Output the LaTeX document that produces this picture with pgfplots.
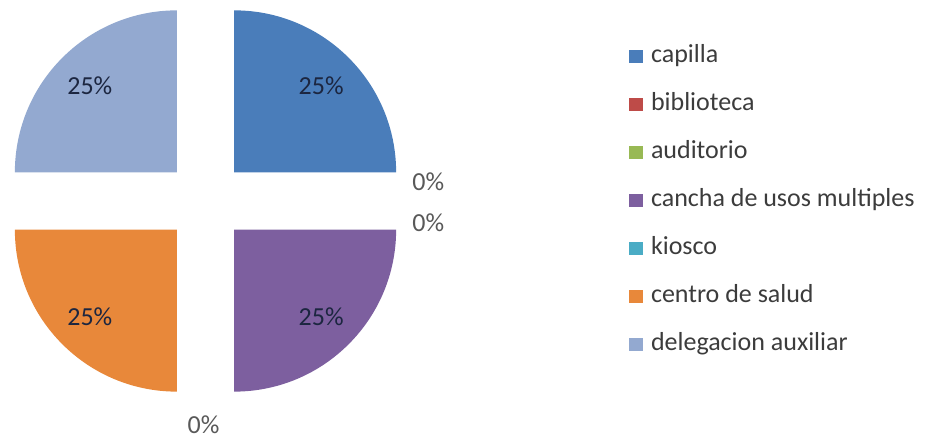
\documentclass[border=0pt]{standalone}
\usepackage{fontspec}
\setmainfont{Carlito}
\usepackage{pgfplots}
\usepackage{pgfplotstable}
\pgfplotsset{compat=1.18}

\definecolor{c0}{HTML}{4A7DBA}
\definecolor{c1}{HTML}{BE4B48}
\definecolor{c2}{HTML}{98B954}
\definecolor{c3}{HTML}{7D5F9F}
\definecolor{c4}{HTML}{4AACC5}
\definecolor{c5}{HTML}{E8883A}
\definecolor{c6}{HTML}{93A9D0}
\definecolor{intext}{HTML}{1C2640}
\definecolor{outtext}{HTML}{595959}
\definecolor{legtext}{HTML}{3C3C3C}

% valores en %, desplazamiento (px) de las etiquetas exteriores
\pgfplotstableread[col sep=comma]{
name,value,nx,ny
capilla,25,0,0
biblioteca,0,0,19
auditorio,0,0,-22
cancha de usos multiples,25,0,0
kiosco,0,-2,-1
centro de salud,25,0,0
delegacion auxiliar,25,0,0
}\datos

\newcommand{\bigfont}{\fontsize{26bp}{30bp}\selectfont}

\begin{document}
\begin{tikzpicture}
\def\R{162}\def\CX{205.5}\def\CY{239}
% total
\def\total{0}
\pgfplotsforeachungrouped \i in {0,...,6}{%
  \pgfplotstablegetelem{\i}{value}\of\datos
  \pgfmathsetmacro\total{\total+\pgfplotsretval}}
% angulos (sentido horario desde las 12) y posiciones
\def\acc{0}
\pgfplotsforeachungrouped \i in {0,...,6}{%
  \pgfplotstablegetelem{\i}{value}\of\datos \let\v\pgfplotsretval
  \pgfplotstablegetelem{\i}{name}\of\datos \let\nm\pgfplotsretval
  \pgfplotstablegetelem{\i}{nx}\of\datos \let\nx\pgfplotsretval
  \pgfplotstablegetelem{\i}{ny}\of\datos \let\ny\pgfplotsretval
  \pgfmathsetmacro\aA{90-360*(\acc/\total)}
  \pgfmathsetmacro\acc{\acc+\v}
  \pgfmathsetmacro\aB{90-360*(\acc/\total)}
  \pgfmathsetmacro\am{(\aA+\aB)/2}
  \pgfmathsetmacro\ox{\CX+0.25*\R*cos(\am)}
  \pgfmathsetmacro\oy{\CY+0.25*\R*sin(\am)}
  \pgfmathtruncatemacro\pc{round(100*(\v/\total))}
  \ifdim\v pt>0pt
    \pgfmathsetmacro\lx{\ox+0.76*\R*cos(\am)}
    \pgfmathsetmacro\ly{\oy+0.76*\R*sin(\am)}
    \def\lc{intext}
  \else
    \pgfmathsetmacro\lx{\CX+1.375*\R*cos(\am)+\nx}
    \pgfmathsetmacro\ly{\CY+1.375*\R*sin(\am)+\ny}
    \def\lc{outtext}
  \fi
  \expandafter\xdef\csname v\i\endcsname{\v}
  \expandafter\xdef\csname aA\i\endcsname{\aA}
  \expandafter\xdef\csname aB\i\endcsname{\aB}
  \expandafter\xdef\csname ox\i\endcsname{\ox}
  \expandafter\xdef\csname oy\i\endcsname{\oy}
  \expandafter\xdef\csname lx\i\endcsname{\lx}
  \expandafter\xdef\csname ly\i\endcsname{\ly}
  \expandafter\xdef\csname lc\i\endcsname{\lc}
  \expandafter\xdef\csname lt\i\endcsname{\pc\noexpand\%}
  \expandafter\xdef\csname nm\i\endcsname{\nm}
}
\begin{axis}[
  width=928bp, height=440bp, scale only axis,
  xmin=0, xmax=928, ymin=0, ymax=440,
  hide axis, clip=false,
  legend image code/.code={\fill[#1, draw=none] (0bp,-6.5bp) rectangle (14bp,6.5bp);},
  legend cell align=left,
  legend style={at={(axis cs:629,396)}, anchor=north west,
    draw=none, fill=none, inner sep=0pt, outer sep=0pt,
    row sep=23bp, column sep=8bp,
    font=\bigfont, text=legtext,
    nodes={inner sep=0pt, text height=19bp, text depth=6bp}},
]
\pgfplotsinvokeforeach{0,...,6}{%
  \ifdim\csname v#1\endcsname pt>0pt
  \fill[c#1] (axis cs:\csname ox#1\endcsname,\csname oy#1\endcsname)
    -- ++(\csname aA#1\endcsname:\R bp)
    arc[start angle=\csname aA#1\endcsname, end angle=\csname aB#1\endcsname, radius=\R bp]
    -- cycle;
  \fi
  \addlegendimage{fill=c#1, draw=none}
  \addlegendentryexpanded{\csname nm#1\endcsname}
}
\pgfplotsinvokeforeach{0,...,6}{%
  \node[font=\bigfont, text=\csname lc#1\endcsname, inner sep=0pt]
    at (axis cs:\csname lx#1\endcsname,\csname ly#1\endcsname) {\csname lt#1\endcsname};
}
\end{axis}
\path (current axis.south west) rectangle (current axis.north east);
\end{tikzpicture}
\end{document}
